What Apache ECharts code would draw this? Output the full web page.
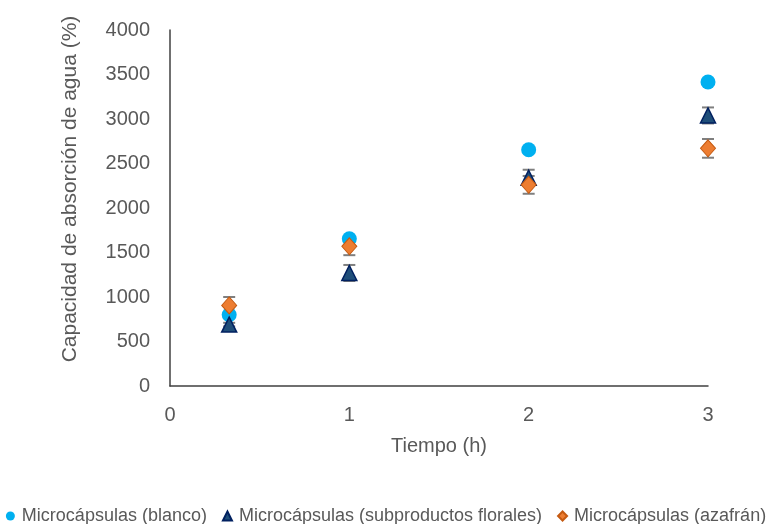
<!DOCTYPE html>
<html><head><meta charset="utf-8">
<script src="https://cdn.jsdelivr.net/npm/echarts@6/dist/echarts.min.js"></script>
<style>html,body{margin:0;padding:0;background:#fff}#c{width:772px;height:524px}</style>
</head><body><div id="c"></div>
<script>
const times = [0.33, 1, 2, 3];
const blanco = [800, 1655, 2655, 3415];
const blancoErr = [0, 0, 0, 0];
const florales = [690, 1270, 2340, 3040];
const floralesErr = [20, 90, 90, 90];
const azafran = [905, 1570, 2260, 2670];
const azafranErr = [95, 100, 100, 105];
const yTicks = [0, 500, 1000, 1500, 2000, 2500, 3000, 3500, 4000];
const xTicks = [0, 1, 2, 3];
const yTitle = 'Capacidad de absorción de agua (%)';

const FONT = 'Liberation Sans';
const TXT = '#595959';
const chart = echarts.init(document.getElementById('c'));

function pts(vals){ return times.map((t,i)=>[t, vals[i]]); }
function errData(vals, errs){ return times.map((t,i)=>[t, vals[i]-errs[i], vals[i]+errs[i]]); }
function errSeries(vals, errs){
  return {
    type: 'custom', silent: true, z: 1,
    data: errData(vals, errs).filter((d,i)=>errs[i]>0),
    renderItem: function(params, api){
      const x = api.value(0);
      const lo = api.coord([x, api.value(1)]);
      const hi = api.coord([x, api.value(2)]);
      const w = 6;
      const st = {stroke: '#7f7f7f', lineWidth: 2};
      return {type: 'group', children: [
        {type: 'line', shape: {x1: lo[0], y1: lo[1], x2: hi[0], y2: hi[1]}, style: st},
        {type: 'line', shape: {x1: lo[0]-w, y1: lo[1], x2: lo[0]+w, y2: lo[1]}, style: st},
        {type: 'line', shape: {x1: hi[0]-w, y1: hi[1], x2: hi[0]+w, y2: hi[1]}, style: st}
      ]};
    }
  };
}

chart.setOption({
  animation: false,
  grid: {left: 170, right: 64, top: 30, bottom: 138},
  graphic: [{
    type: 'text', x: 70, y: 189, rotation: Math.PI / 2,
    style: {text: yTitle, fontFamily: FONT, fontSize: 21, fill: TXT, align: 'center', verticalAlign: 'middle'}
  }],
  xAxis: {
    type: 'value', min: 0, max: 3, interval: 1,
    name: 'Tiempo (h)', nameLocation: 'middle', nameGap: 50,
    nameTextStyle: {fontFamily: FONT, fontSize: 20, color: TXT},
    axisLine: {lineStyle: {color: '#404040', width: 1.5}},
    axisTick: {show: false},
    axisLabel: {fontFamily: FONT, fontSize: 20, color: TXT, margin: 19},
    splitLine: {show: false}
  },
  yAxis: {
    type: 'value', min: 0, max: 4000, interval: 500,
    axisLine: {show: true, lineStyle: {color: '#404040', width: 1.5}},
    axisTick: {show: false},
    axisLabel: {fontFamily: FONT, fontSize: 20, color: TXT, margin: 20, formatter: v => String(v)},
    splitLine: {show: false}
  },
  legend: {
    top: 502, left: 'center', itemGap: 15, itemWidth: 9, itemHeight: 9,
    textStyle: {fontFamily: FONT, fontSize: 18, color: TXT, padding: [0, 0, 0, 2]},
    data: [
      {name: 'Microcápsulas (blanco)', icon: 'circle'},
      {name: 'Microcápsulas (subproductos florales)', icon: 'triangle'},
      {name: 'Microcápsulas (azafrán)', icon: 'diamond'}
    ]
  },
  series: [
    errSeries(florales, floralesErr),
    errSeries(azafran, azafranErr),
    {name: 'Microcápsulas (blanco)', type: 'scatter', data: pts(blanco), symbol: 'circle', symbolSize: 15, z: 2,
     itemStyle: {color: '#00B0F0', opacity: 1}},
    {name: 'Microcápsulas (subproductos florales)', type: 'scatter', data: pts(florales), symbol: 'triangle', symbolSize: [15, 15], z: 3,
     itemStyle: {color: '#1F4E79', borderColor: '#002060', borderWidth: 1.5, opacity: 1}},
    {name: 'Microcápsulas (azafrán)', type: 'scatter', data: pts(azafran), symbol: 'diamond', symbolSize: [15, 17], z: 4,
     itemStyle: {color: '#ED7D31', borderColor: '#C55A11', borderWidth: 1, opacity: 1}}
  ]
});
</script></body></html>
